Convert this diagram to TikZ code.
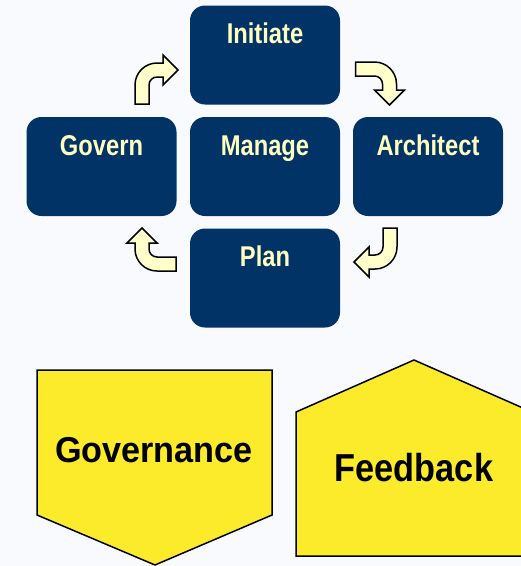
\documentclass[tikz,border=0pt]{standalone}
\usepackage{fontspec}
\setmainfont{Liberation Sans}
\usepackage{graphicx}
\definecolor{navy}{HTML}{023366}
\definecolor{lightyel}{HTML}{FFFFC0}
\definecolor{cream}{HTML}{FFFFCC}
\definecolor{shapeyel}{HTML}{FBEB2B}
\definecolor{bgc}{HTML}{F9FAFD}
\tikzset{
  stepbox/.style={fill=navy, draw=none, rounded corners=15pt, minimum width=150pt,
    inner sep=0pt, text height=38pt, text depth=61pt, text=lightyel,
    font=\fontsize{28.6}{30}\selectfont\bfseries},
  bent/.style={fill=cream, draw=black, line width=1.5pt, line join=miter},
  yelshape/.style={fill=shapeyel, draw=black, line width=1.5pt, line join=miter},
  bigtext/.style={text=black, inner sep=0pt}
}
\newcommand\myarrow[2]{%
  \begin{scope}[shift={#1}, rotate=#2]
    \draw[bent] (-22,19) -- (-22,0) arc[start angle=180,end angle=270,radius=22]
      -- (6,-22) -- (6,-30) -- (21,-15) -- (6,0) -- (6,-8) -- (0,-8)
      arc[start angle=270,end angle=180,radius=8] -- (-8,19) -- cycle;
  \end{scope}}
\begin{document}
\begin{tikzpicture}[x=1pt,y=-1pt]
\useasboundingbox (0,0) rectangle (521,566);
\fill[bgc] (0,0) rectangle (521,566);
\begin{scope}
\clip (0,0) rectangle (521,566);
% cycle boxes
\node[stepbox] (init) at (265,55) {\scalebox{0.83}[1]{Initiate}};
\node[stepbox] (gov) at (101.5,166.5) {\scalebox{0.83}[1]{Govern}};
\node[stepbox] (man) at (265,166.5) {\scalebox{0.83}[1]{Manage}};
\node[stepbox] (arch) at (428,166.5) {\scalebox{0.83}[1]{Architect}};
\node[stepbox] (plan) at (265,278) {\scalebox{0.83}[1]{Plan}};
% bent arrows
\myarrow{(157,85)}{0}
\myarrow{(374.5,84)}{-90}
\myarrow{(375,247)}{180}
\myarrow{(157,249)}{90}
% yellow shapes
\draw[yelshape] (37,370) -- (272,370) -- (272,515) -- (155,565) -- (37,515) -- cycle;
\draw[yelshape] (296,412) -- (414,360) -- (532,412) -- (532,556) -- (296,556) -- cycle;
\node[bigtext, font=\fontsize{36}{40}\selectfont\bfseries] (govn) at (154,450) {\scalebox{0.95}[1]{Governance}};
\node[bigtext, font=\fontsize{39}{42}\selectfont\bfseries] (fb) at (414,468) {\scalebox{0.88}[1]{Feedback}};
\end{scope}
\end{tikzpicture}
\end{document}
